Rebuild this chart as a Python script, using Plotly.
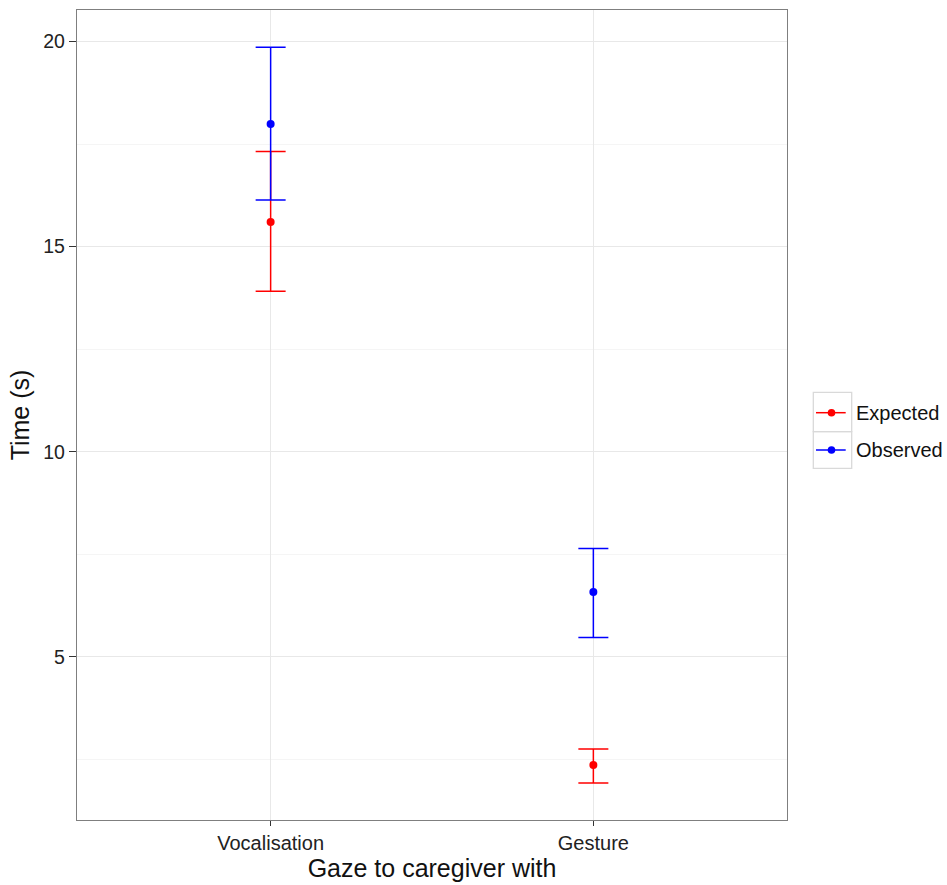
import plotly.graph_objects as go

categories = ["Vocalisation", "Gesture"]
series_names = ["Expected", "Observed"]
series_colors = ["#FF0000", "#0000FF"]
expected_mean = [15.60, 2.36]
expected_low = [13.91, 1.92]
expected_high = [17.32, 2.75]
observed_mean = [17.99, 6.58]
observed_low = [16.14, 5.47]
observed_high = [19.86, 7.64]
y_ticks = [5, 10, 15, 20]
y_minor = [2.5, 7.5, 12.5, 17.5]

fig = go.Figure()

def add_series(name, color, mean, low, high):
    fig.add_trace(go.Scatter(
        x=categories, y=mean, mode="markers", name=name,
        marker=dict(color=color, size=8),
        error_y=dict(type="data", symmetric=False,
                     array=[h - m for h, m in zip(high, mean)],
                     arrayminus=[m - l for m, l in zip(mean, low)],
                     color=color, thickness=1.5, width=15),
        showlegend=False,
    ))

add_series(series_names[0], series_colors[0], expected_mean, expected_low, expected_high)
add_series(series_names[1], series_colors[1], observed_mean, observed_low, observed_high)

fig.update_layout(
    width=947, height=885,
    margin=dict(l=77, r=160, t=10, b=65),
    paper_bgcolor="white", plot_bgcolor="white",
    font=dict(family="Liberation Sans, Arial, sans-serif", color="#1a1a1a"),
    showlegend=False,
    xaxis=dict(
        type="category", range=[-0.6, 1.6],
        showgrid=True, gridcolor="#e8e8e8", gridwidth=1.3,
        ticks="outside", ticklen=5, tickcolor="#333333",
        tickfont=dict(size=20, color="#222222"),
        showline=True, linecolor="#7f7f7f", linewidth=1.3, mirror=True,
        zeroline=False,
        title=dict(text="Gaze to caregiver with", font=dict(size=25, color="#111111"), standoff=1),
    ),
    yaxis=dict(
        range=[1.02, 20.77],
        tickvals=y_ticks, ticktext=[str(v) for v in y_ticks],
        showgrid=True, gridcolor="#e8e8e8", gridwidth=1.3,
        minor=dict(tickvals=y_minor, showgrid=True, gridcolor="#f5f5f5", gridwidth=1, ticks=""),
        ticks="outside", ticklen=7, tickcolor="#333333",
        tickfont=dict(size=19.5, color="#222222"),
        showline=True, linecolor="#7f7f7f", linewidth=1.3, mirror=True,
        zeroline=False,
        title=dict(text="Time (s)", font=dict(size=25, color="#111111"), standoff=6),
    ),
)

# manual ggplot-style legend (keys drawn in paper coordinates)
def px_x(p):
    return (p - 77) / 710.0

def px_y(p):
    return (820 - p) / 810.0

key_rows = [(392.3, 431.7, 412.7), (431.7, 468.3, 450.0)]
for (top, bot, mid), name, color in zip(key_rows, series_names, series_colors):
    fig.add_shape(type="rect", xref="paper", yref="paper",
                  x0=px_x(813.3), x1=px_x(851.7), y0=px_y(bot), y1=px_y(top),
                  line=dict(color="#d9d9d9", width=1.3), fillcolor="rgba(0,0,0,0)")
    fig.add_shape(type="line", xref="paper", yref="paper",
                  x0=px_x(816), x1=px_x(845.7), y0=px_y(mid), y1=px_y(mid),
                  line=dict(color=color, width=1.5))
    fig.add_shape(type="circle", xref="paper", yref="paper",
                  xsizemode="pixel", ysizemode="pixel",
                  xanchor=px_x(831.5), yanchor=px_y(mid),
                  x0=-3.8, x1=3.8, y0=-3.8, y1=3.8,
                  line=dict(color=color, width=0), fillcolor=color)
    fig.add_annotation(xref="paper", yref="paper", x=px_x(854), y=px_y(mid),
                       xanchor="left", yanchor="middle", showarrow=False,
                       text=name, font=dict(size=20, color="#111111"))

fig.write_html("out.html")
